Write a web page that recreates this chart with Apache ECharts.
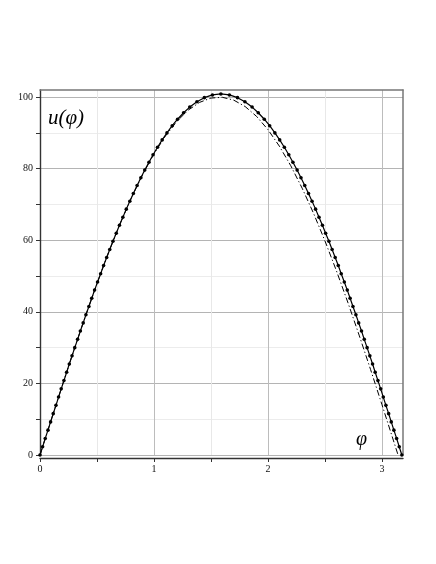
<!DOCTYPE html>
<html>
<head>
<meta charset="utf-8">
<script src="https://cdn.jsdelivr.net/npm/echarts@6/dist/echarts.min.js"></script>
<style>
html,body{margin:0;padding:0;background:#fff;}
#chart{width:436px;height:564px;}
</style>
</head>
<body>
<div id="chart"></div>
<script>
// Solid curve with point markers: phi values and u values
const solidPhi = [
  0.000,0.023,0.046,0.070,0.093,0.116,0.140,0.163,0.186,0.210,
  0.234,0.257,0.281,0.305,0.330,0.354,0.379,0.403,0.429,0.454,
  0.479,0.505,0.532,0.558,0.585,0.612,0.640,0.669,0.697,0.727,
  0.757,0.788,0.819,0.852,0.885,0.919,0.956,0.992,1.031,1.072,
  1.114,1.160,1.207,1.260,1.314,1.377,1.442,1.513,1.587,
  1.662,1.733,1.798,1.861,1.915,1.968,2.015,2.061,2.103,2.144,
  2.183,2.219,2.256,2.290,2.323,2.356,2.387,2.418,2.448,2.478,
  2.506,2.535,2.563,2.590,2.617,2.643,2.670,2.696,2.721,2.746,
  2.772,2.796,2.821,2.845,2.870,2.894,2.918,2.941,2.965,2.989,
  3.012,3.035,3.059,3.082,3.105,3.129,3.152,3.175
];
const solidU = [
  0.00,2.31,4.63,6.94,9.25,11.56,13.88,16.19,18.49,20.79,
  23.11,25.42,27.71,30.00,32.32,34.64,36.92,39.18,41.51,43.82,
  46.08,48.33,50.65,52.94,55.19,57.43,59.73,61.98,64.20,66.46,
  68.71,70.90,73.09,75.33,77.49,79.62,81.82,83.90,85.99,88.06,
  90.01,92.02,93.83,95.65,97.23,98.71,99.86,100.62,100.90,
  100.62,99.86,98.71,97.23,95.65,93.83,92.02,90.01,88.06,85.99,
  83.90,81.82,79.62,77.49,75.33,73.09,70.90,68.71,66.46,64.20,
  61.98,59.73,57.43,55.19,52.94,50.65,48.33,46.08,43.82,41.51,
  39.18,36.92,34.64,32.32,30.00,27.71,25.42,23.11,20.79,18.49,
  16.19,13.88,11.56,9.25,6.94,4.63,2.31,0.00
];
// Dash-dot reference curve
const refPhi = [
  0.0,0.1,0.2,0.3,0.4,0.5,0.6,0.7,0.8,0.9,1.0,1.1,1.2,1.3,1.4,1.5,1.6,
  1.7,1.8,1.9,2.0,2.1,2.2,2.3,2.4,2.5,2.6,2.7,2.8,2.9,3.0,3.1,3.1416
];
const refU = [
  0.00,9.98,19.87,29.55,38.94,47.94,56.46,64.42,71.74,78.33,84.15,89.12,93.20,96.36,98.54,99.75,99.96,
  99.17,97.38,94.63,90.93,86.32,80.85,74.57,67.55,59.85,51.55,42.74,33.50,23.93,14.11,4.16,0.00
];
// Axis settings
const xMin = 0, xMax = 3.185, xStep = 0.5;
const yMin = 0, yMax = 102, yStep = 10;
const yLabelStep = 20;
const yTitle = 'u(φ)';
const xTitle = 'φ';

const solidData = solidPhi.map((p, i) => [p, solidU[i]]);
const refData = refPhi.map((p, i) => [p, refU[i]]);

const serif = '"Liberation Serif", "DejaVu Serif", serif';
const chart = echarts.init(document.getElementById('chart'), null, {renderer: 'canvas'});
chart.setOption({
  animation: false,
  backgroundColor: '#fff',
  grid: {left: 40, right: 33, top: 90, bottom: 109, containLabel: false},
  xAxis: [{
    type: 'value', min: xMin, max: xMax, interval: xStep,
    offset: 3,
    axisLine: {show: true, onZero: false, lineStyle: {color: '#333', width: 1.4}},
    axisTick: {show: true, length: 4, lineStyle: {color: '#333', width: 1}},
    axisLabel: {
      show: true, showMaxLabel: false, margin: 6,
      fontFamily: serif, fontSize: 10, color: '#111',
      formatter: v => (Math.abs(v - Math.round(v)) < 1e-9 ? String(Math.round(v)) : '')
    },
    splitLine: {show: true, showMaxLine: false, lineStyle: {color: ['#bcbcbc', '#e8e8e8'], width: 1}}
  }, {
    type: 'value', min: xMin, max: xMax, position: 'top',
    axisLine: {show: true, onZero: false, lineStyle: {color: '#777', width: 1.5}},
    axisTick: {show: false}, axisLabel: {show: false}, splitLine: {show: false}
  }],
  yAxis: [{
    type: 'value', min: yMin, max: yMax, interval: yStep,
    axisLine: {show: true, onZero: false, lineStyle: {color: '#333', width: 1.4}},
    axisTick: {show: true, length: 4, lineStyle: {color: '#333', width: 1}},
    axisLabel: {
      show: true, showMaxLabel: false, margin: 7,
      fontFamily: serif, fontSize: 10, color: '#111',
      formatter: v => (Math.abs(v % yLabelStep) < 1e-9 ? String(v) : '')
    },
    splitLine: {show: true, showMaxLine: false, lineStyle: {color: ['#b4b4b4', '#ececec'], width: 1}}
  }, {
    type: 'value', min: yMin, max: yMax, position: 'right',
    axisLine: {show: true, onZero: false, lineStyle: {color: '#777', width: 1.5}},
    axisTick: {show: false}, axisLabel: {show: false}, splitLine: {show: false}
  }],
  series: [{
    type: 'line',
    data: refData,
    showSymbol: false,
    symbol: 'none',
    lineStyle: {color: '#000', width: 1, type: [6, 2.5, 1.2, 2.5]},
    z: 2
  }, {
    type: 'line',
    data: solidData,
    symbol: 'circle',
    symbolSize: 3.6,
    itemStyle: {color: '#000'},
    lineStyle: {color: '#000', width: 1.2},
    z: 3
  }],
  graphic: [{
    type: 'text', left: 48, top: 108,
    style: {text: yTitle, font: 'italic 21px ' + serif, fill: '#000'}
  }, {
    type: 'text', left: 356, top: 430,
    style: {text: xTitle, font: 'italic 20px ' + serif, fill: '#000'}
  }]
});
</script>
</body>
</html>
